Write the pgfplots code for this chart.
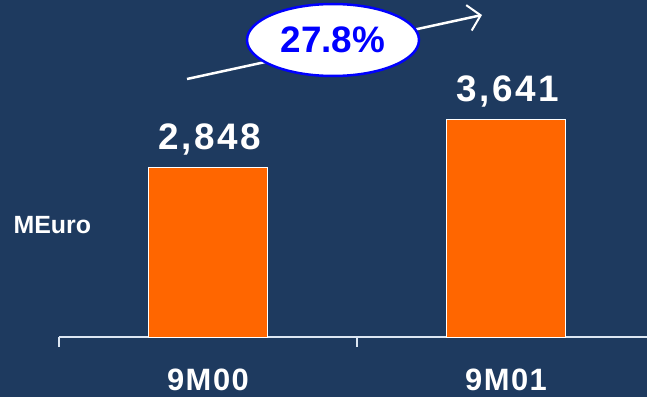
\documentclass[border=0pt]{standalone}
\usepackage{pgfplots}
\pgfplotsset{compat=1.18}
\usepackage{fontspec}
\setmainfont{Liberation Sans}
\usetikzlibrary{arrows.meta}
\definecolor{bg}{HTML}{1E3A5F}
\definecolor{barorange}{HTML}{FF6600}
\definecolor{axisline}{HTML}{DCE6F2}
\begin{document}
\begin{tikzpicture}[x=1bp,y=1bp]
\useasboundingbox (0,0) rectangle (647,397);
\fill[bg] (0,0) rectangle (647,397);
\begin{axis}[
  at={(59bp,60bp)}, anchor=south west,
  scale only axis, width=596bp, height=337bp,
  xmin=-0.5, xmax=1.5, ymin=0, ymax=5646,
  axis y line=none,
  axis x line=bottom,
  x axis line style={-, draw=axisline, line width=1.2bp},
  xtick={-0.5,0.5,1.5}, xticklabels={},
  tick align=outside, major tick length=10bp,
  x tick style={draw=axisline, line width=1.2bp},
  ytick=\empty,
  clip=false,
  /pgf/number format/assume math mode=true,
  /pgf/number format/1000 sep={,},
]
\addplot[ybar, bar width=119bp, fill=barorange, draw=white, line width=0.8bp,
  nodes near coords,
  every node near coord/.append style={anchor=base, yshift=18bp, xshift=2bp, text=white,
    font=\fontsize{37}{40}\selectfont\bfseries\addfontfeature{LetterSpace=7}}]
  coordinates {(0,2848) (1,3641)};
\node[anchor=base, text=white, font=\fontsize{31}{33}\selectfont\bfseries\addfontfeature{LetterSpace=5}] at (axis cs:0,0) [yshift=-53bp] {9M00};
\node[anchor=base, text=white, font=\fontsize{31}{33}\selectfont\bfseries\addfontfeature{LetterSpace=5}] at (axis cs:1,0) [yshift=-53bp] {9M01};
\end{axis}
\node[anchor=west, text=white, font=\fontsize{25}{28}\selectfont\bfseries] at (10,397-225) {MEuro};
\draw[white, line width=2.5bp, -{Straight Barb[length=12bp,width=26bp,line width=2bp]}] (187,318) -- (482,382);
\draw[blue, line width=2.5bp, fill=white] (333,357) ellipse [x radius=86, y radius=36];
\node[text=blue, font=\fontsize{37}{40}\selectfont\bfseries] at (333,357) {27.8\%};
\end{tikzpicture}
\end{document}
